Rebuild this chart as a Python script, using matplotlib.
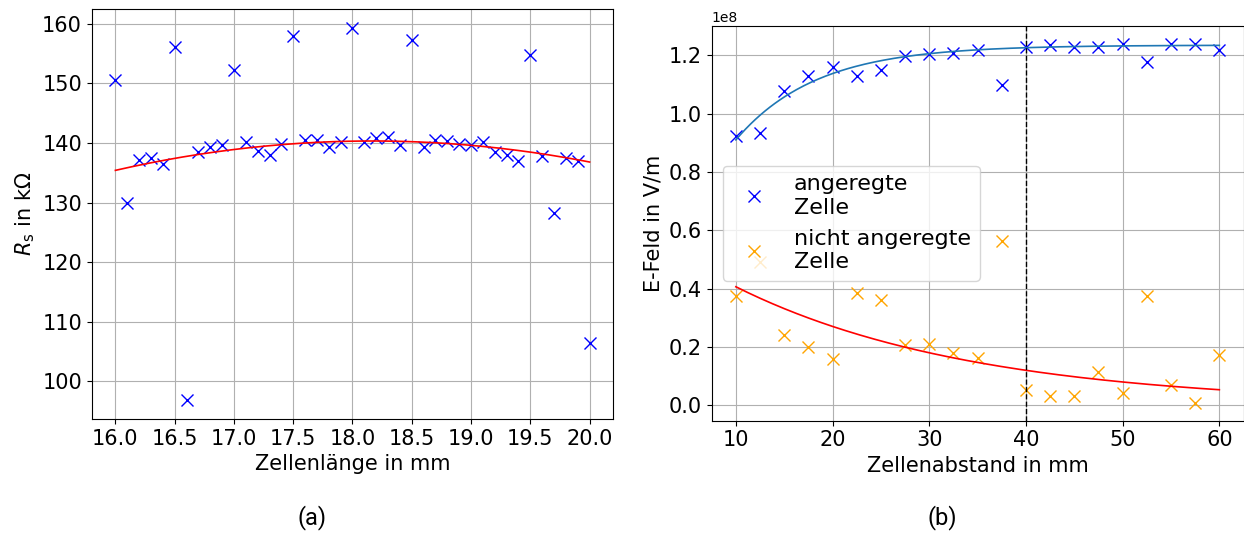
import numpy as np
import matplotlib
matplotlib.use("Agg")
import matplotlib.pyplot as plt

# (a) cell length vs. shunt resistance
laenge = [16.0, 16.1, 16.2, 16.3, 16.4, 16.5, 16.6, 16.7, 16.8, 16.9,
          17.0, 17.1, 17.2, 17.3, 17.4, 17.5, 17.6, 17.7, 17.8, 17.9,
          18.0, 18.1, 18.2, 18.3, 18.4, 18.5, 18.6, 18.7, 18.8, 18.9,
          19.0, 19.1, 19.2, 19.3, 19.4, 19.5, 19.6, 19.7, 19.8, 19.9, 20.0]
rs = [150.6, 130.0, 137.1, 137.5, 136.5, 156.1, 96.8, 138.5, 139.3, 139.7,
      152.2, 140.1, 138.7, 137.9, 139.9, 157.9, 140.5, 140.5, 139.3, 140.1,
      159.3, 140.1, 140.9, 141.0, 139.6, 157.3, 139.4, 140.5, 140.3, 139.9,
      139.6, 140.2, 138.5, 137.9, 136.9, 154.8, 137.8, 128.3, 137.4, 136.9, 106.4]
# quadratic fit a*(x-18)^2 + b*(x-18) + c
fit_a, fit_b, fit_c = -1.05, 0.35, 140.3

# (b) cell distance vs. field
abstand = [10, 12.5, 15, 17.5, 20, 22.5, 25, 27.5, 30, 32.5, 35, 37.5,
           40, 42.5, 45, 47.5, 50, 52.5, 55, 57.5, 60]
e_an = [0.924, 0.933, 1.078, 1.128, 1.160, 1.128, 1.149, 1.198, 1.206, 1.208, 1.219, 1.098,
        1.228, 1.237, 1.228, 1.228, 1.240, 1.177, 1.240, 1.240, 1.217]
e_nicht = [0.376, 0.491, 0.240, 0.200, 0.157, 0.385, 0.360, 0.206, 0.209, 0.179, 0.163, 0.563,
           0.051, 0.032, 0.032, 0.114, 0.042, 0.375, 0.069, 0.008, 0.171]
# fits: a - b*exp(-(x-10)/c)  and  a*exp(-(x-10)/c)
an_a, an_b, an_c = 1.235e8, 0.325e8, 8.3
ni_a, ni_c = 0.406e8, 24.5

fs = 15
ms = 8.5
fig = plt.figure(figsize=(12.44, 5.35), dpi=100)

# left plot
ax1 = fig.add_axes([0.0737, 0.2168, 0.4193, 0.7658])
ax1.plot(laenge, rs, 'bx', ms=ms, ls='none')
xf = np.linspace(16.0, 20.0, 200)
ax1.plot(xf, fit_a*(xf-18)**2 + fit_b*(xf-18) + fit_c, 'r-', lw=1.2)
ax1.set_xlabel("Zellenlänge in mm", fontsize=fs)
ax1.set_ylabel(r"$R_\mathrm{s}$ in k$\Omega$", fontsize=fs)
ax1.set_xticks([16.0, 16.5, 17.0, 17.5, 18.0, 18.5, 19.0, 19.5, 20.0])
ax1.tick_params(labelsize=fs)
ax1.grid(True)

# right plot
ax2 = fig.add_axes([0.5721, 0.2136, 0.4275, 0.7383])
ax2.plot(abstand, np.array(e_an)*1e8, 'bx', ms=ms, ls='none', label="angeregte\nZelle")
ax2.plot(abstand, np.array(e_nicht)*1e8, 'x', color='orange', ms=ms, ls='none',
         label="nicht angeregte\nZelle")
xd = np.linspace(10, 60, 200)
ax2.plot(xd, an_a - an_b*np.exp(-(xd-10)/an_c), color='C0', lw=1.2)
ax2.plot(xd, ni_a*np.exp(-(xd-10)/ni_c), 'r-', lw=1.2)
ax2.axvline(40, color='k', ls='--', lw=1)
ax2.set_xlabel("Zellenabstand in mm", fontsize=fs)
ax2.set_ylabel("E-Feld in V/m", fontsize=fs)
ax2.tick_params(labelsize=fs)
ax2.yaxis.get_offset_text().set_fontsize(10)
ax2.grid(True)
ax2.legend(loc='center left', fontsize=16)

fig.text(0.2508, 0.032, "(a)", family="Roboto", fontsize=17, ha='center', va='center')
fig.text(0.7572, 0.032, "(b)", family="Roboto", fontsize=17, ha='center', va='center')

plt.savefig("out.png", dpi=100)
